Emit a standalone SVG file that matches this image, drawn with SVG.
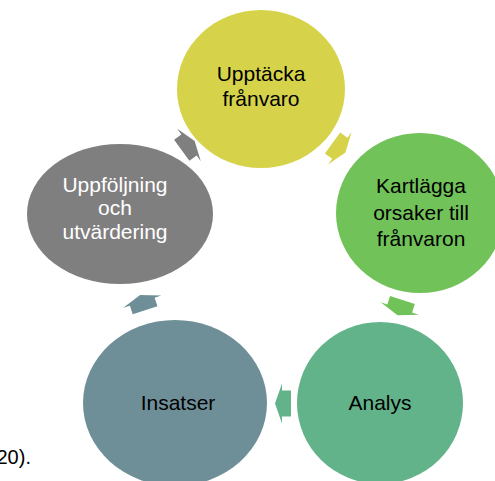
<svg xmlns="http://www.w3.org/2000/svg" width="495" height="481" viewBox="0 0 495 481">
<style>
text{font-family:"Liberation Sans",Arial,sans-serif;font-size:21px;text-anchor:middle;fill:#000}
.w{fill:#fff}
.c1{fill:#D6D34A}.c2{fill:#71C259}.c3{fill:#62B28A}.c4{fill:#6F8F98}.c5{fill:#7F7F7F}
</style>
<defs>
<path id="arr" d="M-8,-13 L1,-13 L1,-20 L8,0 L1,20 L1,13 L-8,13 Z"/>
</defs>
<rect width="495" height="481" fill="#fff"/>
<text x="-3.5" y="464" style="text-anchor:start;font-size:20px">20).</text>
<g id="n1"><ellipse class="c1" cx="261" cy="89" rx="84" ry="79"/><text x="261" y="81">Upptäcka</text><text x="261" y="106">frånvaro</text></g>
<g id="n2"><ellipse class="c2" cx="420" cy="213" rx="84" ry="80"/><text x="421" y="193">Kartlägga</text><text x="421" y="219.5">orsaker till</text><text x="421" y="246">frånvaron</text></g>
<g id="n3"><ellipse class="c3" cx="380" cy="403" rx="83" ry="81"/><text x="380" y="410">Analys</text></g>
<g id="n4"><ellipse class="c4" cx="175" cy="403" rx="92" ry="83"/><text x="178" y="410">Insatser</text></g>
<g id="n5"><ellipse class="c5" cx="120" cy="214" rx="93" ry="70"/><text class="w" x="115" y="191.5">Uppföljning</text><text class="w" x="115" y="215">och</text><text class="w" x="115" y="238.5">utvärdering</text></g>
<g id="connectors">
<use href="#arr" class="c1" transform="translate(339,147.7) rotate(36)"/>
<use href="#arr" class="c2" transform="translate(400,307.6) rotate(108)"/>
<use href="#arr" class="c3" transform="translate(283,403.5) rotate(180)"/>
<use href="#arr" class="c4" transform="translate(142.6,302.6) rotate(252)"/>
<use href="#arr" class="c5" transform="translate(188.2,145.6) rotate(324)"/>
</g>
</svg>
